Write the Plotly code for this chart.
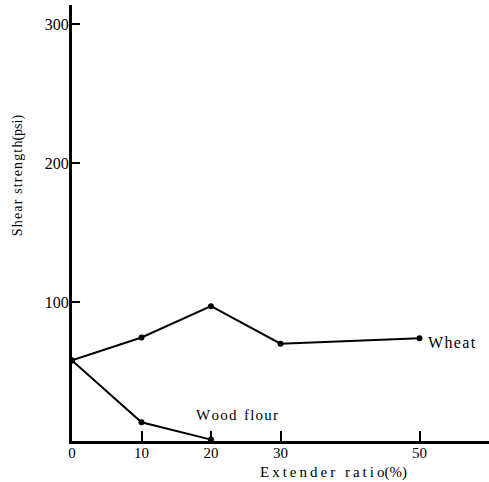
import plotly.graph_objects as go

ratio = [0, 10, 20, 30, 50]
wheat = [58, 74.5, 97, 70, 74]
wood_ratio = [0, 10, 20]
wood_flour = [58, 13.5, 1]
x_tickvals = [0, 10, 20, 30, 50, 60]
x_ticktext = ["0", "10", "20", "30", "50", ""]
y_tickvals = [100, 200, 300]
y_ticktext = ["100", "200", "300"]

FONT = "Liberation Serif"
HS = "\u200a"
TS = "\u2009"


def spaced(s, sep=HS):
    return sep.join(list(s))


fig = go.Figure()
fig.add_trace(go.Scatter(x=ratio, y=wheat, mode="lines+markers",
                         line=dict(color="black", width=2),
                         marker=dict(color="black", size=6), showlegend=False))
fig.add_trace(go.Scatter(x=wood_ratio, y=wood_flour, mode="lines+markers",
                         line=dict(color="black", width=2),
                         marker=dict(color="black", size=6), showlegend=False))

fig.update_layout(
    width=489, height=482,
    margin=dict(l=72, r=0, t=5, b=41),
    paper_bgcolor="white", plot_bgcolor="white",
    font=dict(family=FONT, size=15, color="black"),
    xaxis=dict(range=[0, 60], showgrid=False, zeroline=False,
               showline=True, linecolor="black", linewidth=3,
               ticks="inside", ticklen=10, tickwidth=2, tickcolor="black",
               tickvals=x_tickvals, ticktext=x_ticktext, ticklabelstandoff=-4,
               tickfont=dict(family=FONT, size=15)),
    yaxis=dict(range=[0, 313.7], showgrid=False, zeroline=False,
               showline=True, linecolor="black", linewidth=3,
               ticks="inside", ticklen=8, tickwidth=2, tickcolor="black",
               tickvals=y_tickvals, ticktext=y_ticktext, ticklabelstandoff=-3,
               tickfont=dict(family=FONT, size=16)),
    annotations=[
        dict(text=spaced("Extender ratio", TS) + "(%)", xref="paper", yref="paper",
             x=0.626, y=-0.073, xanchor="center", yanchor="middle",
             showarrow=False, font=dict(size=15)),
        dict(text=spaced("Shear strength") + "(psi)", xref="paper", yref="paper",
             x=-0.129, y=0.61, xanchor="center", yanchor="middle",
             showarrow=False, textangle=-90, font=dict(size=14)),
        dict(text=spaced("Wheat"), x=51, y=71, xanchor="left", yanchor="middle",
             showarrow=False, font=dict(size=16)),
        dict(text=spaced("Wood") + "  " + spaced("flour"), x=23.7, y=18.7,
             xanchor="center", yanchor="middle",
             showarrow=False, font=dict(size=15)),
    ],
)

fig.write_html("out.html", config={"displayModeBar": False},
               post_script="document.body.style.margin='0';")
